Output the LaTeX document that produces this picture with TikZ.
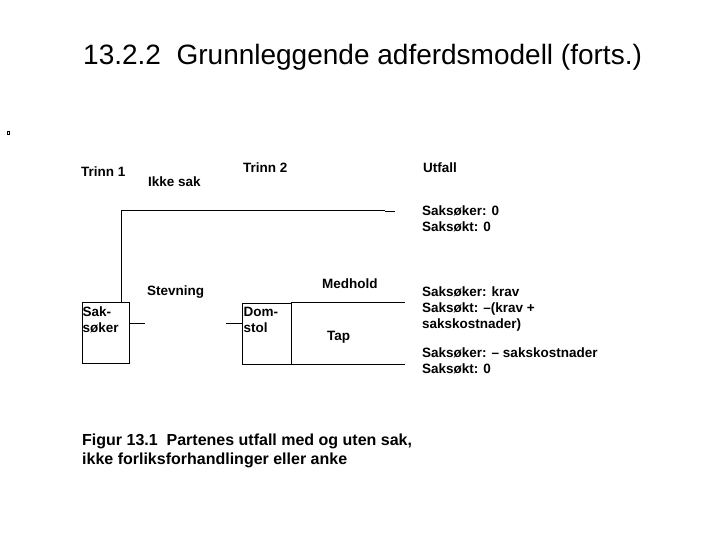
\documentclass[tikz,border=0pt]{standalone}
\usepackage{fontspec}
\setmainfont{Liberation Sans}
\begin{document}
\begin{tikzpicture}[x=1pt,y=-1pt,
  lbl/.style={anchor=base west,inner sep=0pt,font=\fontsize{13.5}{16}\selectfont\bfseries},
  captxt/.style={anchor=base west,inner sep=0pt,font=\fontsize{16}{19.5}\selectfont\bfseries},
  boxn/.style={draw,line width=0.8pt,inner sep=0pt},
  conn/.style={line width=0.8pt}]
\useasboundingbox (0,0) rectangle (720,540);
% title
\node[anchor=base west,inner sep=0pt,font=\fontsize{28}{32}\selectfont] (title) at (83,65) {13.2.2\ \ Grunnleggende adferdsmodell (forts.)};
% small mark
\node[draw,line width=0.8pt,inner sep=0pt,minimum width=2.5pt,minimum height=2.5pt] (mark) at (8.5,133) {};
% header labels
\node[lbl] (t1) at (81,177) {Trinn 1};
\node[lbl] (ikke) at (148,187) {Ikke sak};
\node[lbl] (t2) at (243,173) {Trinn 2};
\node[lbl] (utfall) at (423,173) {Utfall};
% boxes
\node[boxn,minimum width=47pt,minimum height=61pt] (sak) at (105.5,332.5) {};
\node[boxn,minimum width=49pt,minimum height=61pt] (dom) at (266.5,333.5) {};
\node[lbl] (saktxta) at (82.5,316) {Sak-};
\node[lbl] (saktxtb) at (82.5,332) {søker};
\node[lbl] (domtxta) at (243.5,316) {Dom-};
\node[lbl] (domtxtb) at (243.5,332) {stol};
% other labels
\node[lbl] (stev) at (147,295) {Stevning};
\node[lbl] (medh) at (322,288) {Medhold};
\node[lbl] (tap) at (327,340) {Tap};
% outcomes
\node[lbl] (u1a) at (422,215) {Saksøker: 0};
\node[lbl] (u1b) at (422,231) {Saksøkt: 0};
\node[lbl] (u2a) at (422,296) {Saksøker: krav};
\node[lbl] (u2b) at (422,312) {Saksøkt: –(krav +};
\node[lbl] (u2c) at (422,328) {sakskostnader)};
\node[lbl] (u3a) at (422,357) {Saksøker: – sakskostnader};
\node[lbl] (u3b) at (422,373) {Saksøkt: 0};
% caption
\node[captxt] (captiona) at (82,445) {Figur 13.1\ \ Partenes utfall med og uten sak,};
\node[captxt] (captionb) at (82,464) {ikke forliksforhandlinger eller anke};
% connectors
\coordinate (c1) at (121,210.5);
\coordinate (c2) at (385,210.5);
\coordinate (c3) at (385,211.5);
\coordinate (c4) at (395,211.5);
\draw[conn] (sak.north -| c1) -- (c1) -- (c2);
\draw[line width=1.2pt] (c3) -- (c4);
\coordinate (s1) at (145,323);
\coordinate (s2) at (226,323);
\draw[conn] (sak.east |- s1) -- (s1);
\draw[conn] (s2) -- (dom.west |- s2);
\coordinate (m1) at (405,303);
\coordinate (m2) at (405,364);
\draw[conn] (dom.north east) -- (dom.north east -| m1);
\draw[conn] (dom.south east) -- (dom.south east -| m2);
\end{tikzpicture}
\end{document}
